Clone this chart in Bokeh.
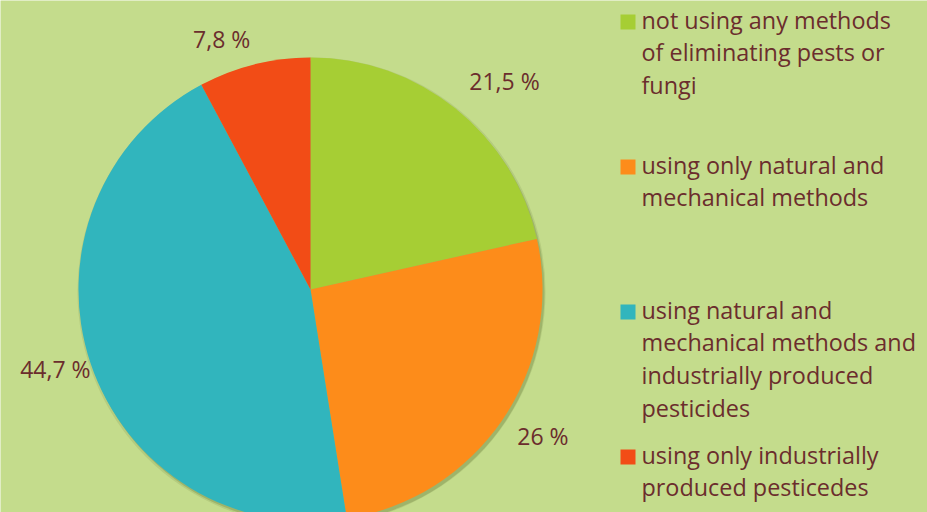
import math
from bokeh.plotting import figure
from bokeh.models import Range1d, ColumnDataSource
from bokeh.core.properties import value
from bokeh.embed import file_html
from bokeh.resources import INLINE

# ---- data ----
categories = [
    "not using any methods of eliminating pests or fungi",
    "using only natural and mechanical methods",
    "using natural and mechanical methods and industrially produced pesticides",
    "using only industrially produced pesticedes",
]
shares = [21.5, 26.0, 44.7, 7.8]
share_labels = ["21,5 %", "26 %", "44,7 %", "7,8 %"]
legend_lines = [
    ["not using any methods", "of eliminating pests or", "fungi"],
    ["using only natural and", "mechanical methods"],
    ["using natural and", "mechanical methods and", "industrially produced", "pesticides"],
    ["using only industrially", "produced pesticedes"],
]
colors = ["#a6ce34", "#fd8c1a", "#31b5bd", "#f24c16"]

# ---- layout (pixels) ----
W, H = 927, 512
BG = "#c4dc8c"
TXT = "#6b2d2d"
FONT = "Open Sans"
cx, cy, R = 310, 223, 232          # pie centre / radius
label_r = [254, 250, 232, 248]      # radius of each label anchor
legend_first_baseline = [484, 339, 194, 49]   # data-y of first line of each item
line_step = 32.7
text_shift = 9
legend_text_x = 641
legend_box_x = 627.5

p = figure(width=W, height=H, x_range=Range1d(0, W), y_range=Range1d(0, H),
           output_backend="svg", toolbar_location=None, min_border=0)
p.axis.visible = False
p.grid.visible = False
p.outline_line_color = None
p.background_fill_color = BG
p.border_fill_color = BG

# soft shadow
p.circle(x=[cx + 1], y=[cy - 2], radius=R + 2, fill_color="#4d5e22", fill_alpha=0.12, line_color=None)
p.circle(x=[cx + 2], y=[cy - 3], radius=R, fill_color="#4d5e22", fill_alpha=0.22, line_color=None)

total = sum(shares)
starts, ends, mids = [], [], []
cum = 0.0
for s in shares:
    a0 = math.pi / 2 - 2 * math.pi * cum / total
    cum += s
    a1 = math.pi / 2 - 2 * math.pi * cum / total
    starts.append(a0)
    ends.append(a1)
    mids.append((a0 + a1) / 2)

src = ColumnDataSource(dict(x=[cx] * 4, y=[cy] * 4, start=starts, end=ends, color=colors))
p.wedge(x="x", y="y", radius=R, start_angle="start", end_angle="end", direction="clock",
        fill_color="color", line_color=None, source=src)

# value labels
for lab, m, lr in zip(share_labels, mids, label_r):
    c, s = math.cos(m), math.sin(m)
    dy = -6 if s > 0 else 10
    p.text(x=[cx + lr * c], y=[cy + lr * s + dy], text=[lab],
           text_align="left" if c > 0 else "right",
           text_baseline="bottom" if s > 0 else "top",
           text_font=value(FONT), text_font_size="23px", text_color=TXT)

# legend
for i, lines in enumerate(legend_lines):
    y0 = legend_first_baseline[i]
    p.rect(x=[legend_box_x], y=[y0 + 6.5], width=15, height=15,
           fill_color=colors[i], line_color=None)
    p.text(x=[legend_text_x] * len(lines),
           y=[y0 + text_shift - k * line_step for k in range(len(lines))],
           text=lines, text_align="left", text_baseline="alphabetic",
           text_font=value(FONT), text_font_size="23.4px", text_color=TXT)

open("out.html", "w").write(file_html(p, INLINE))
